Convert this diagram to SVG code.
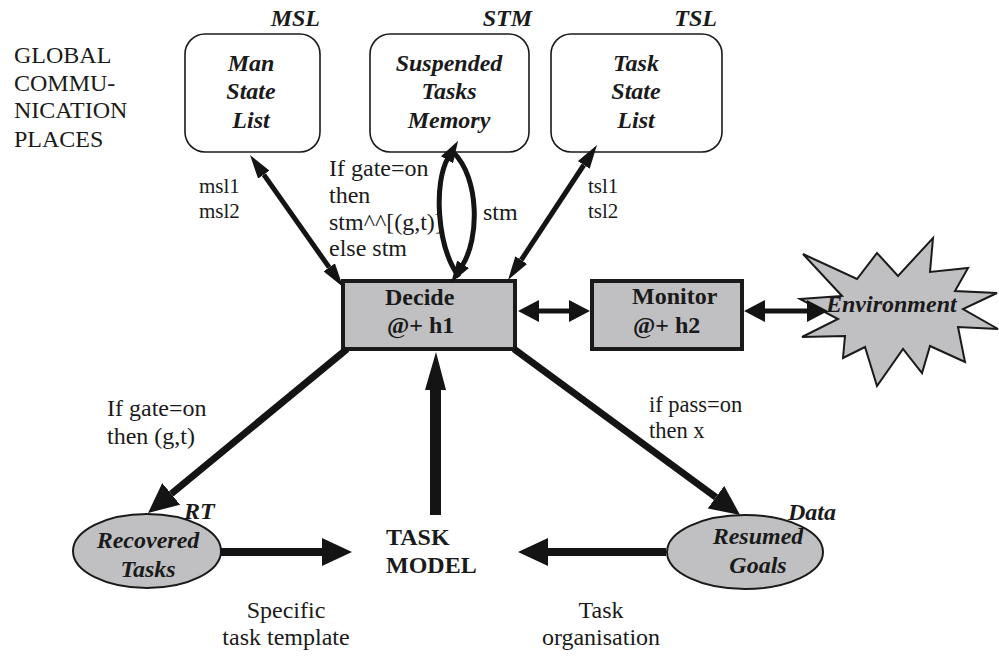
<svg xmlns="http://www.w3.org/2000/svg" width="999" height="656" viewBox="0 0 999 656">
  <style>
    text { fill: #1a1a1a; font-family: 'Liberation Serif', 'Times New Roman', serif; }
    .t24 { font-size: 24px; }
    .t21 { font-size: 21px; }
    .bi { font-size: 24px; font-weight: bold; font-style: italic; }
    .b { font-size: 24px; font-weight: bold; }
    .place { fill: #ffffff; stroke: #1a1a1a; stroke-width: 1.6; }
    .proc { fill: #c0c0c2; stroke: #1a1a1a; stroke-width: 4; }
    .data { fill: #c0c0c2; stroke: #1a1a1a; stroke-width: 2; }
    .env { fill: #c0c0c2; stroke: #1a1a1a; stroke-width: 2; stroke-linejoin: miter; }
    .conn { stroke: #141414; fill: none; stroke-linecap: butt; }
    .head { fill: #141414; }
  </style>
  <defs>
    <!-- narrow head, base at the line end -->
    <marker id="hN" viewBox="0 -7 24 14" refX="0" refY="0" markerWidth="24" markerHeight="14" markerUnits="userSpaceOnUse" orient="auto-start-reverse">
      <path class="head" d="M0,-7 L24,0 L0,7 z"/>
    </marker>
    <!-- wide head for the lower connectors -->
    <marker id="hW" viewBox="0 -14 30 28" refX="0" refY="0" markerWidth="30" markerHeight="28" markerUnits="userSpaceOnUse" orient="auto-start-reverse">
      <path class="head" d="M0,-14 L30,0 L0,14 z"/>
    </marker>
    <!-- medium head for the horizontal links -->
    <marker id="hM" viewBox="0 -11 21 22" refX="0" refY="0" markerWidth="21" markerHeight="22" markerUnits="userSpaceOnUse" orient="auto-start-reverse">
      <path class="head" d="M0,-11 L21,0 L0,11 z"/>
    </marker>
    <!-- slim head for the memory loop -->
    <marker id="hL" viewBox="0 -7 22 14" refX="2" refY="0" markerWidth="22" markerHeight="14" markerUnits="userSpaceOnUse" orient="auto">
      <path class="head" d="M0,-7 L22,0 L0,7 z"/>
    </marker>
  </defs>

  <!-- side caption -->
  <g id="caption">
    <text class="t24" x="14" y="63">GLOBAL</text>
    <text class="t24" x="14" y="91">COMMU-</text>
    <text class="t24" x="14" y="118">NICATION</text>
    <text class="t24" x="14" y="147">PLACES</text>
  </g>

  <!-- communication places -->
  <g id="msl">
    <text class="bi" x="320" y="26" text-anchor="end">MSL</text>
    <rect class="place" x="185" y="34" width="135" height="118" rx="20"/>
    <text class="bi" x="251" y="71" text-anchor="middle">Man</text>
    <text class="bi" x="251" y="99" text-anchor="middle">State</text>
    <text class="bi" x="251" y="128" text-anchor="middle">List</text>
  </g>
  <g id="stm">
    <text class="bi" x="532" y="26" text-anchor="end">STM</text>
    <rect class="place" x="370" y="34" width="159" height="118" rx="20"/>
    <text class="bi" x="449" y="71" text-anchor="middle">Suspended</text>
    <text class="bi" x="449" y="99" text-anchor="middle">Tasks</text>
    <text class="bi" x="449" y="128" text-anchor="middle">Memory</text>
  </g>
  <g id="tsl">
    <text class="bi" x="717" y="26" text-anchor="end">TSL</text>
    <rect class="place" x="551" y="34" width="171" height="118" rx="20"/>
    <text class="bi" x="636" y="71" text-anchor="middle">Task</text>
    <text class="bi" x="636" y="99" text-anchor="middle">State</text>
    <text class="bi" x="636" y="128" text-anchor="middle">List</text>
  </g>

  <!-- processes -->
  <g id="decide">
    <rect class="proc" x="343" y="281" width="172" height="68"/>
    <text class="b" x="385" y="305">Decide</text>
    <text class="b" x="387" y="333">@+ h1</text>
  </g>
  <g id="monitor">
    <rect class="proc" x="592" y="281" width="150" height="68"/>
    <text class="b" x="632" y="304">Monitor</text>
    <text class="b" x="633" y="333">@+ h2</text>
  </g>

  <!-- environment -->
  <g id="environment">
    <polygon class="env" points="803,254 857,279 877,253 898,276 933,238 930,272 968,268 955,291 997,293 963,309 998,329 958,327 965,362 930,346 922,373 903,349 877,386 865,347 843,358 845,336 802,337 838,319 800,299 842,296"/>
    <text class="bi" x="826" y="312">Environment</text>
  </g>

  <!-- data places -->
  <g id="recovered">
    <text class="bi" x="184" y="519">RT</text>
    <ellipse class="data" cx="147" cy="551" rx="74" ry="37"/>
    <text class="bi" x="148" y="548" text-anchor="middle">Recovered</text>
    <text class="bi" x="148" y="577" text-anchor="middle">Tasks</text>
  </g>
  <g id="resumed">
    <text class="bi" x="788" y="520">Data</text>
    <ellipse class="data" cx="745" cy="552" rx="78" ry="37"/>
    <text class="bi" x="758" y="544" text-anchor="middle">Resumed</text>
    <text class="bi" x="758" y="573" text-anchor="middle">Goals</text>
  </g>

  <g id="taskmodel">
    <text class="b" x="386" y="545">TASK</text>
    <text class="b" x="386" y="573">MODEL</text>
  </g>

  <!-- connectors -->
  <g id="connectors">
    <line class="conn" stroke-width="5" x1="263.8" y1="174.6" x2="329.2" y2="267.4" marker-start="url(#hN)" marker-end="url(#hN)"/>
    <line class="conn" stroke-width="5" x1="583.8" y1="165" x2="521.2" y2="260" marker-start="url(#hN)" marker-end="url(#hN)"/>
    <path class="conn" stroke-width="5" d="M459,277 C436,245 434,182 448,158" marker-end="url(#hL)"/>
    <path class="conn" stroke-width="5" d="M454,153 C479,178 480,238 462,266" marker-end="url(#hL)"/>
    <line class="conn" stroke-width="5" x1="539" y1="311" x2="569" y2="311" marker-start="url(#hM)" marker-end="url(#hM)"/>
    <line class="conn" stroke-width="5" x1="765" y1="311" x2="807" y2="311" marker-start="url(#hM)" marker-end="url(#hM)"/>
    <line class="conn" stroke-width="7" x1="347" y1="349" x2="171.2" y2="493.9" marker-end="url(#hW)"/>
    <line class="conn" stroke-width="7" x1="514" y1="349" x2="715.9" y2="497.2" marker-end="url(#hW)"/>
    <line class="conn" stroke-width="8" x1="221" y1="552" x2="322" y2="552" marker-end="url(#hW)"/>
    <line class="conn" stroke-width="8" x1="666" y1="552" x2="548" y2="552" marker-end="url(#hW)"/>
    <polygon class="head" points="430,515 441,515 441,390 446,390 436,352 425,390 430,390"/>
  </g>

  <!-- connector labels -->
  <g id="labels">
    <text class="t21" x="199" y="193">msl1</text>
    <text class="t21" x="199" y="218">msl2</text>
    <text class="t21" x="588" y="193">tsl1</text>
    <text class="t21" x="588" y="218">tsl2</text>
    <text class="t24" x="483" y="220">stm</text>
    <text class="t24" x="329" y="176">If gate=on</text>
    <text class="t24" x="329" y="203">then</text>
    <text class="t24" x="329" y="230">stm^^[(g,t)]</text>
    <text class="t24" x="329" y="256">else stm</text>
    <text class="t24" x="107" y="416">If gate=on</text>
    <text class="t24" x="107" y="444">then (g,t)</text>
    <text class="t24" x="649" y="412" style="font-size:22.5px">if pass=on</text>
    <text class="t24" x="649" y="438" style="font-size:22.5px">then x</text>
    <text class="t24" x="286" y="618" text-anchor="middle">Specific</text>
    <text class="t24" x="286" y="645" text-anchor="middle">task template</text>
    <text class="t24" x="601" y="618" text-anchor="middle">Task</text>
    <text class="t24" x="601" y="645" text-anchor="middle">organisation</text>
  </g>
</svg>
